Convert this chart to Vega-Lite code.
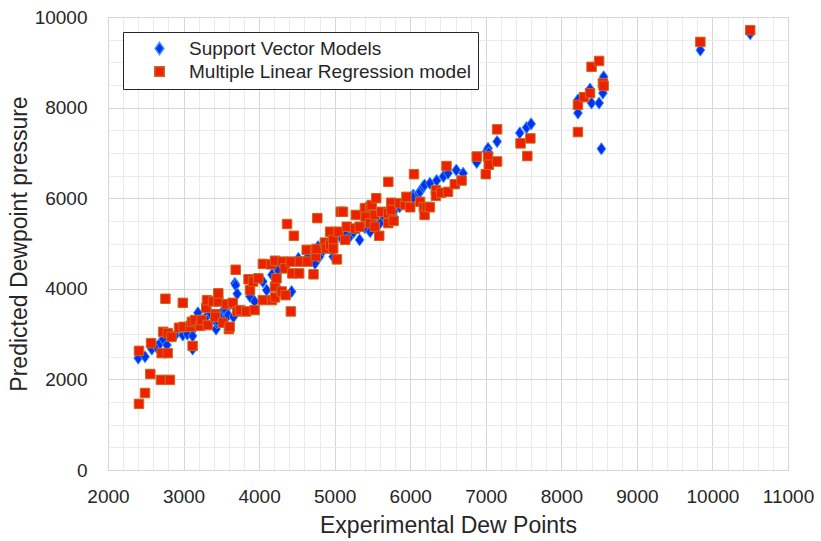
{
  "$schema": "https://vega.github.io/schema/vega-lite/v6.json",
  "width": 680,
  "height": 453,
  "autosize": {"type": "none"},
  "padding": {"left": 108, "top": 17, "right": 33, "bottom": 71},
  "background": "white",
  "config": {
    "view": {"stroke": "#262626", "strokeWidth": 1},
    "font": "Liberation Sans"
  },
  "datasets": {
    "pts": [
      {"model":"Support Vector Models","exp":2400,"pred":2470},
      {"model":"Support Vector Models","exp":2490,"pred":2500},
      {"model":"Support Vector Models","exp":2580,"pred":2670},
      {"model":"Support Vector Models","exp":2640,"pred":2720},
      {"model":"Support Vector Models","exp":2690,"pred":2800},
      {"model":"Support Vector Models","exp":2730,"pred":2890},
      {"model":"Support Vector Models","exp":2780,"pred":2760},
      {"model":"Support Vector Models","exp":2850,"pred":2950},
      {"model":"Support Vector Models","exp":2900,"pred":3000},
      {"model":"Support Vector Models","exp":2950,"pred":3100},
      {"model":"Support Vector Models","exp":2990,"pred":2980},
      {"model":"Support Vector Models","exp":3040,"pred":3160},
      {"model":"Support Vector Models","exp":3050,"pred":3000},
      {"model":"Support Vector Models","exp":3120,"pred":3090},
      {"model":"Support Vector Models","exp":3120,"pred":2960},
      {"model":"Support Vector Models","exp":3120,"pred":2670},
      {"model":"Support Vector Models","exp":3190,"pred":3470},
      {"model":"Support Vector Models","exp":3260,"pred":3310},
      {"model":"Support Vector Models","exp":3300,"pred":3380},
      {"model":"Support Vector Models","exp":3350,"pred":3470},
      {"model":"Support Vector Models","exp":3430,"pred":3110},
      {"model":"Support Vector Models","exp":3440,"pred":3250},
      {"model":"Support Vector Models","exp":3440,"pred":3310},
      {"model":"Support Vector Models","exp":3480,"pred":3420},
      {"model":"Support Vector Models","exp":3530,"pred":3530},
      {"model":"Support Vector Models","exp":3560,"pred":3520},
      {"model":"Support Vector Models","exp":3570,"pred":3380},
      {"model":"Support Vector Models","exp":3590,"pred":3420},
      {"model":"Support Vector Models","exp":3660,"pred":3380},
      {"model":"Support Vector Models","exp":3680,"pred":3600},
      {"model":"Support Vector Models","exp":3680,"pred":4120},
      {"model":"Support Vector Models","exp":3690,"pred":4080},
      {"model":"Support Vector Models","exp":3710,"pred":3890},
      {"model":"Support Vector Models","exp":3880,"pred":3830},
      {"model":"Support Vector Models","exp":3940,"pred":3720},
      {"model":"Support Vector Models","exp":4050,"pred":4160},
      {"model":"Support Vector Models","exp":4100,"pred":3970},
      {"model":"Support Vector Models","exp":4170,"pred":4310},
      {"model":"Support Vector Models","exp":4230,"pred":4050},
      {"model":"Support Vector Models","exp":4250,"pred":4420},
      {"model":"Support Vector Models","exp":4320,"pred":4490},
      {"model":"Support Vector Models","exp":4430,"pred":3940},
      {"model":"Support Vector Models","exp":4520,"pred":4670},
      {"model":"Support Vector Models","exp":4650,"pred":4710},
      {"model":"Support Vector Models","exp":4720,"pred":4640},
      {"model":"Support Vector Models","exp":4740,"pred":4560},
      {"model":"Support Vector Models","exp":4780,"pred":4930},
      {"model":"Support Vector Models","exp":4800,"pred":4710},
      {"model":"Support Vector Models","exp":4850,"pred":4850},
      {"model":"Support Vector Models","exp":4900,"pred":4950},
      {"model":"Support Vector Models","exp":4980,"pred":5000},
      {"model":"Support Vector Models","exp":4980,"pred":4710},
      {"model":"Support Vector Models","exp":5070,"pred":5150},
      {"model":"Support Vector Models","exp":5100,"pred":5100},
      {"model":"Support Vector Models","exp":5150,"pred":5200},
      {"model":"Support Vector Models","exp":5200,"pred":5150},
      {"model":"Support Vector Models","exp":5250,"pred":5250},
      {"model":"Support Vector Models","exp":5330,"pred":5080},
      {"model":"Support Vector Models","exp":5400,"pred":5350},
      {"model":"Support Vector Models","exp":5470,"pred":5260},
      {"model":"Support Vector Models","exp":5510,"pred":5480},
      {"model":"Support Vector Models","exp":5600,"pred":5450},
      {"model":"Support Vector Models","exp":5650,"pred":5600},
      {"model":"Support Vector Models","exp":5690,"pred":5670},
      {"model":"Support Vector Models","exp":5770,"pred":5630},
      {"model":"Support Vector Models","exp":5800,"pred":5750},
      {"model":"Support Vector Models","exp":5860,"pred":5810},
      {"model":"Support Vector Models","exp":5900,"pred":5900},
      {"model":"Support Vector Models","exp":5950,"pred":5960},
      {"model":"Support Vector Models","exp":6040,"pred":6070},
      {"model":"Support Vector Models","exp":6040,"pred":6020},
      {"model":"Support Vector Models","exp":6110,"pred":6110},
      {"model":"Support Vector Models","exp":6130,"pred":6140},
      {"model":"Support Vector Models","exp":6170,"pred":6250},
      {"model":"Support Vector Models","exp":6190,"pred":6290},
      {"model":"Support Vector Models","exp":6260,"pred":6330},
      {"model":"Support Vector Models","exp":6350,"pred":6390},
      {"model":"Support Vector Models","exp":6440,"pred":6480},
      {"model":"Support Vector Models","exp":6500,"pred":6550},
      {"model":"Support Vector Models","exp":6610,"pred":6620},
      {"model":"Support Vector Models","exp":6700,"pred":6550},
      {"model":"Support Vector Models","exp":6880,"pred":6790},
      {"model":"Support Vector Models","exp":7010,"pred":7030},
      {"model":"Support Vector Models","exp":7030,"pred":7100},
      {"model":"Support Vector Models","exp":7040,"pred":7000},
      {"model":"Support Vector Models","exp":7150,"pred":7250},
      {"model":"Support Vector Models","exp":7450,"pred":7440},
      {"model":"Support Vector Models","exp":7540,"pred":7560},
      {"model":"Support Vector Models","exp":7600,"pred":7640},
      {"model":"Support Vector Models","exp":8220,"pred":8170},
      {"model":"Support Vector Models","exp":8220,"pred":7880},
      {"model":"Support Vector Models","exp":8380,"pred":8410},
      {"model":"Support Vector Models","exp":8400,"pred":8100},
      {"model":"Support Vector Models","exp":8500,"pred":8100},
      {"model":"Support Vector Models","exp":8530,"pred":7090},
      {"model":"Support Vector Models","exp":8550,"pred":8320},
      {"model":"Support Vector Models","exp":8560,"pred":8680},
      {"model":"Support Vector Models","exp":9840,"pred":9270},
      {"model":"Support Vector Models","exp":10500,"pred":9630},
      {"model":"Multiple Linear Regression model","exp":2410,"pred":1460},
      {"model":"Multiple Linear Regression model","exp":2490,"pred":1700},
      {"model":"Multiple Linear Regression model","exp":2410,"pred":2630},
      {"model":"Multiple Linear Regression model","exp":2560,"pred":2120},
      {"model":"Multiple Linear Regression model","exp":2570,"pred":2800},
      {"model":"Multiple Linear Regression model","exp":2700,"pred":1990},
      {"model":"Multiple Linear Regression model","exp":2710,"pred":2580},
      {"model":"Multiple Linear Regression model","exp":2730,"pred":3050},
      {"model":"Multiple Linear Regression model","exp":2760,"pred":3780},
      {"model":"Multiple Linear Regression model","exp":2790,"pred":3020},
      {"model":"Multiple Linear Regression model","exp":2790,"pred":2580},
      {"model":"Multiple Linear Regression model","exp":2820,"pred":1990},
      {"model":"Multiple Linear Regression model","exp":2840,"pred":2940},
      {"model":"Multiple Linear Regression model","exp":2940,"pred":3140},
      {"model":"Multiple Linear Regression model","exp":2990,"pred":3690},
      {"model":"Multiple Linear Regression model","exp":3000,"pred":3160},
      {"model":"Multiple Linear Regression model","exp":3090,"pred":3160},
      {"model":"Multiple Linear Regression model","exp":3110,"pred":3270},
      {"model":"Multiple Linear Regression model","exp":3120,"pred":2740},
      {"model":"Multiple Linear Regression model","exp":3150,"pred":3310},
      {"model":"Multiple Linear Regression model","exp":3220,"pred":3180},
      {"model":"Multiple Linear Regression model","exp":3240,"pred":3310},
      {"model":"Multiple Linear Regression model","exp":3300,"pred":3580},
      {"model":"Multiple Linear Regression model","exp":3310,"pred":3750},
      {"model":"Multiple Linear Regression model","exp":3320,"pred":3200},
      {"model":"Multiple Linear Regression model","exp":3390,"pred":3720},
      {"model":"Multiple Linear Regression model","exp":3420,"pred":3440},
      {"model":"Multiple Linear Regression model","exp":3420,"pred":3380},
      {"model":"Multiple Linear Regression model","exp":3460,"pred":3720},
      {"model":"Multiple Linear Regression model","exp":3460,"pred":3900},
      {"model":"Multiple Linear Regression model","exp":3520,"pred":3250},
      {"model":"Multiple Linear Regression model","exp":3570,"pred":3660},
      {"model":"Multiple Linear Regression model","exp":3600,"pred":3110},
      {"model":"Multiple Linear Regression model","exp":3610,"pred":3160},
      {"model":"Multiple Linear Regression model","exp":3650,"pred":3690},
      {"model":"Multiple Linear Regression model","exp":3690,"pred":4420},
      {"model":"Multiple Linear Regression model","exp":3710,"pred":3500},
      {"model":"Multiple Linear Regression model","exp":3750,"pred":3530},
      {"model":"Multiple Linear Regression model","exp":3830,"pred":3500},
      {"model":"Multiple Linear Regression model","exp":3860,"pred":4210},
      {"model":"Multiple Linear Regression model","exp":3880,"pred":3970},
      {"model":"Multiple Linear Regression model","exp":3920,"pred":4160},
      {"model":"Multiple Linear Regression model","exp":3940,"pred":3530},
      {"model":"Multiple Linear Regression model","exp":3990,"pred":4230},
      {"model":"Multiple Linear Regression model","exp":4050,"pred":4550},
      {"model":"Multiple Linear Regression model","exp":4050,"pred":3750},
      {"model":"Multiple Linear Regression model","exp":4160,"pred":4540},
      {"model":"Multiple Linear Regression model","exp":4170,"pred":3750},
      {"model":"Multiple Linear Regression model","exp":4210,"pred":4620},
      {"model":"Multiple Linear Regression model","exp":4210,"pred":4050},
      {"model":"Multiple Linear Regression model","exp":4210,"pred":3810},
      {"model":"Multiple Linear Regression model","exp":4230,"pred":4230},
      {"model":"Multiple Linear Regression model","exp":4300,"pred":3940},
      {"model":"Multiple Linear Regression model","exp":4310,"pred":4600},
      {"model":"Multiple Linear Regression model","exp":4340,"pred":4450},
      {"model":"Multiple Linear Regression model","exp":4350,"pred":3860},
      {"model":"Multiple Linear Regression model","exp":4370,"pred":5430},
      {"model":"Multiple Linear Regression model","exp":4420,"pred":3500},
      {"model":"Multiple Linear Regression model","exp":4420,"pred":4600},
      {"model":"Multiple Linear Regression model","exp":4440,"pred":4340},
      {"model":"Multiple Linear Regression model","exp":4460,"pred":5170},
      {"model":"Multiple Linear Regression model","exp":4530,"pred":4340},
      {"model":"Multiple Linear Regression model","exp":4540,"pred":4600},
      {"model":"Multiple Linear Regression model","exp":4630,"pred":4860},
      {"model":"Multiple Linear Regression model","exp":4640,"pred":4600},
      {"model":"Multiple Linear Regression model","exp":4720,"pred":4320},
      {"model":"Multiple Linear Regression model","exp":4740,"pred":4820},
      {"model":"Multiple Linear Regression model","exp":4750,"pred":4720},
      {"model":"Multiple Linear Regression model","exp":4760,"pred":4880},
      {"model":"Multiple Linear Regression model","exp":4770,"pred":5560},
      {"model":"Multiple Linear Regression model","exp":4870,"pred":5020},
      {"model":"Multiple Linear Regression model","exp":4890,"pred":4890},
      {"model":"Multiple Linear Regression model","exp":4940,"pred":5260},
      {"model":"Multiple Linear Regression model","exp":4940,"pred":4970},
      {"model":"Multiple Linear Regression model","exp":4980,"pred":5080},
      {"model":"Multiple Linear Regression model","exp":4980,"pred":4890},
      {"model":"Multiple Linear Regression model","exp":5030,"pred":4650},
      {"model":"Multiple Linear Regression model","exp":5050,"pred":5260},
      {"model":"Multiple Linear Regression model","exp":5080,"pred":5700},
      {"model":"Multiple Linear Regression model","exp":5110,"pred":5700},
      {"model":"Multiple Linear Regression model","exp":5140,"pred":5080},
      {"model":"Multiple Linear Regression model","exp":5160,"pred":5370},
      {"model":"Multiple Linear Regression model","exp":5270,"pred":5330},
      {"model":"Multiple Linear Regression model","exp":5280,"pred":5630},
      {"model":"Multiple Linear Regression model","exp":5330,"pred":5370},
      {"model":"Multiple Linear Regression model","exp":5400,"pred":5780},
      {"model":"Multiple Linear Regression model","exp":5410,"pred":5590},
      {"model":"Multiple Linear Regression model","exp":5470,"pred":5450},
      {"model":"Multiple Linear Regression model","exp":5470,"pred":5810},
      {"model":"Multiple Linear Regression model","exp":5490,"pred":5850},
      {"model":"Multiple Linear Regression model","exp":5530,"pred":5370},
      {"model":"Multiple Linear Regression model","exp":5530,"pred":5630},
      {"model":"Multiple Linear Regression model","exp":5550,"pred":6000},
      {"model":"Multiple Linear Regression model","exp":5590,"pred":5170},
      {"model":"Multiple Linear Regression model","exp":5620,"pred":5700},
      {"model":"Multiple Linear Regression model","exp":5710,"pred":5670},
      {"model":"Multiple Linear Regression model","exp":5710,"pred":5450},
      {"model":"Multiple Linear Regression model","exp":5710,"pred":6360},
      {"model":"Multiple Linear Regression model","exp":5750,"pred":5900},
      {"model":"Multiple Linear Regression model","exp":5750,"pred":5740},
      {"model":"Multiple Linear Regression model","exp":5780,"pred":5500},
      {"model":"Multiple Linear Regression model","exp":5860,"pred":5890},
      {"model":"Multiple Linear Regression model","exp":5930,"pred":5850},
      {"model":"Multiple Linear Regression model","exp":5950,"pred":6030},
      {"model":"Multiple Linear Regression model","exp":6000,"pred":5800},
      {"model":"Multiple Linear Regression model","exp":6050,"pred":6530},
      {"model":"Multiple Linear Regression model","exp":6130,"pred":5920},
      {"model":"Multiple Linear Regression model","exp":6180,"pred":5800},
      {"model":"Multiple Linear Regression model","exp":6190,"pred":5630},
      {"model":"Multiple Linear Regression model","exp":6220,"pred":5810},
      {"model":"Multiple Linear Regression model","exp":6260,"pred":5800},
      {"model":"Multiple Linear Regression model","exp":6340,"pred":6180},
      {"model":"Multiple Linear Regression model","exp":6340,"pred":6050},
      {"model":"Multiple Linear Regression model","exp":6410,"pred":6120},
      {"model":"Multiple Linear Regression model","exp":6500,"pred":6140},
      {"model":"Multiple Linear Regression model","exp":6480,"pred":6710},
      {"model":"Multiple Linear Regression model","exp":6590,"pred":6310},
      {"model":"Multiple Linear Regression model","exp":6680,"pred":6390},
      {"model":"Multiple Linear Regression model","exp":6880,"pred":6920},
      {"model":"Multiple Linear Regression model","exp":7000,"pred":6530},
      {"model":"Multiple Linear Regression model","exp":7030,"pred":6920},
      {"model":"Multiple Linear Regression model","exp":7040,"pred":6740},
      {"model":"Multiple Linear Regression model","exp":7150,"pred":6810},
      {"model":"Multiple Linear Regression model","exp":7150,"pred":7520},
      {"model":"Multiple Linear Regression model","exp":7460,"pred":7210},
      {"model":"Multiple Linear Regression model","exp":7550,"pred":6930},
      {"model":"Multiple Linear Regression model","exp":7590,"pred":7320},
      {"model":"Multiple Linear Regression model","exp":8220,"pred":7460},
      {"model":"Multiple Linear Regression model","exp":8220,"pred":8060},
      {"model":"Multiple Linear Regression model","exp":8300,"pred":8230},
      {"model":"Multiple Linear Regression model","exp":8380,"pred":8320},
      {"model":"Multiple Linear Regression model","exp":8400,"pred":8900},
      {"model":"Multiple Linear Regression model","exp":8500,"pred":9030},
      {"model":"Multiple Linear Regression model","exp":8550,"pred":8540},
      {"model":"Multiple Linear Regression model","exp":8560,"pred":8480},
      {"model":"Multiple Linear Regression model","exp":9840,"pred":9450},
      {"model":"Multiple Linear Regression model","exp":10500,"pred":9710}
    ]
  },
  "data": {"name": "pts"},
  "resolve": {"axis": {"x": "independent", "y": "independent"}},
  "layer": [
    {
      "mark": {"type": "point", "opacity": 0},
      "encoding": {
        "x": {
          "field": "exp", "type": "quantitative",
          "scale": {"domain": [2000, 11000], "nice": false, "zero": false},
          "axis": {
            "orient": "top",
            "values": [2000,2200,2400,2600,2800,3000,3200,3400,3600,3800,4000,4200,4400,4600,4800,5000,5200,5400,5600,5800,6000,6200,6400,6600,6800,7000,7200,7400,7600,7800,8000,8200,8400,8600,8800,9000,9200,9400,9600,9800,10000,10200,10400,10600,10800,11000],
            "grid": true, "gridColor": "#ebebeb", "gridWidth": 1,
            "labels": false, "ticks": false, "domain": false, "title": null
          }
        },
        "y": {
          "field": "pred", "type": "quantitative",
          "scale": {"domain": [0, 10000], "nice": false},
          "axis": {
            "orient": "right",
            "values": [0,500,1000,1500,2000,2500,3000,3500,4000,4500,5000,5500,6000,6500,7000,7500,8000,8500,9000,9500,10000],
            "grid": true, "gridColor": "#ebebeb", "gridWidth": 1,
            "labels": false, "ticks": false, "domain": false, "title": null
          }
        }
      }
    },
    {
      "mark": {"type": "point", "filled": true, "opacity": 1, "strokeWidth": 1},
      "encoding": {
        "x": {
          "field": "exp", "type": "quantitative",
          "scale": {"domain": [2000, 11000], "nice": false, "zero": false},
          "axis": {
            "orient": "bottom",
            "values": [2000,3000,4000,5000,6000,7000,8000,9000,10000,11000],
            "format": "d", "labelOverlap": false, "labelFlush": false,
            "grid": true, "gridColor": "#d6d6d6", "gridWidth": 1,
            "domain": false, "ticks": false,
            "labelFontSize": 19, "labelColor": "#262626", "labelPadding": 17,
            "title": "Experimental Dew Points", "titleFontSize": 23, "titleFontWeight": "normal",
            "titleColor": "#262626", "titlePadding": 8
          }
        },
        "y": {
          "field": "pred", "type": "quantitative",
          "scale": {"domain": [0, 10000], "nice": false},
          "axis": {
            "orient": "left",
            "values": [0,2000,4000,6000,8000,10000],
            "format": "d", "labelOverlap": false, "labelFlush": false,
            "grid": true, "gridColor": "#d6d6d6", "gridWidth": 1,
            "domain": false, "ticks": false,
            "labelFontSize": 19, "labelColor": "#262626", "labelPadding": 21,
            "title": "Predicted Dewpoint pressure", "titleFontSize": 23, "titleFontWeight": "normal",
            "titleColor": "#262626", "titlePadding": 3
          }
        },
        "fill": {
          "field": "model", "type": "nominal",
          "scale": {"domain": ["Support Vector Models", "Multiple Linear Regression model"], "range": ["#0530f0", "#ee2000"]},
          "legend": {
            "orient": "none", "legendX": 15, "legendY": 15, "title": null,
            "strokeColor": "#262626", "fillColor": "white", "padding": 7,
            "labelFontSize": 19, "labelLimit": 0, "labelColor": "#262626", "symbolOffset": 20, "labelOffset": 20,
            "rowPadding": 3
          }
        },
        "stroke": {
          "field": "model", "type": "nominal",
          "scale": {"domain": ["Support Vector Models", "Multiple Linear Regression model"], "range": ["#3d9bff", "#c86a1e"]}
        },
        "shape": {
          "field": "model", "type": "nominal",
          "scale": {"domain": ["Support Vector Models", "Multiple Linear Regression model"], "range": ["M0,-1L0.72,0L0,1L-0.72,0Z", "square"]}
        },
        "size": {
          "field": "model", "type": "nominal",
          "scale": {"domain": ["Support Vector Models", "Multiple Linear Regression model"], "range": [150, 90]}
        }
      }
    }
  ]
}
